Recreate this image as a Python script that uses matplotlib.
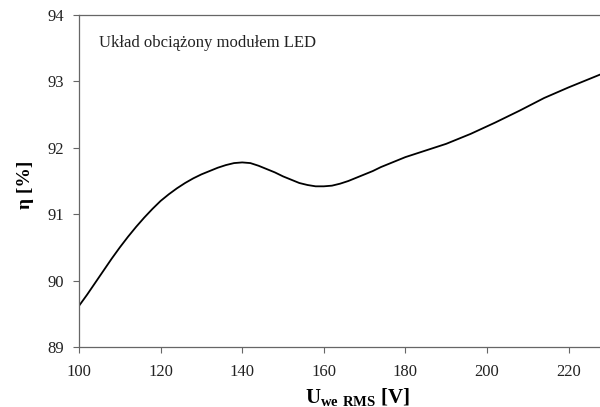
import matplotlib
matplotlib.use("Agg")
import matplotlib.pyplot as plt

# values
u_in = [100, 102, 104, 106, 108, 110, 112, 114, 116, 118, 120, 122, 124,
        126, 128, 130, 132, 134, 136, 138, 140, 142, 144, 146, 148, 150,
        152, 154, 156, 158, 160, 162, 164, 166, 168, 170, 172, 174, 176,
        178, 180, 184, 190, 196, 202, 208, 214, 220, 228]
eff = [89.62, 89.79, 89.97, 90.15, 90.33, 90.50, 90.66, 90.81, 90.95,
       91.08, 91.20, 91.30, 91.39, 91.47, 91.54, 91.60, 91.65, 91.70,
       91.74, 91.77, 91.78, 91.77, 91.73, 91.68, 91.63, 91.57, 91.52,
       91.47, 91.44, 91.42, 91.42, 91.43, 91.46, 91.50, 91.55, 91.60,
       91.65, 91.71, 91.76, 91.81, 91.86, 91.94, 92.06, 92.21, 92.38,
       92.56, 92.75, 92.91, 93.11]

x_ticks = [100, 120, 140, 160, 180, 200, 220]
y_ticks = [89, 90, 91, 92, 93, 94]

plt.rcParams["font.family"] = "Liberation Serif"
plt.rcParams["mathtext.fontset"] = "custom"
plt.rcParams["mathtext.rm"] = "Liberation Serif"
plt.rcParams["mathtext.bf"] = "Liberation Serif:bold"

fig = plt.figure(figsize=(6.0, 4.07), dpi=100)
ax = fig.add_axes([0.1317, 0.1474, 0.8683, 0.8157])

ax.plot(u_in, eff, color="black", lw=1.3)

ax.set_xlim(100, 227.7)
ax.set_ylim(89, 94)
ax.set_xticks(x_ticks)
ax.set_yticks(y_ticks)
ax.tick_params(labelsize=12, length=4, width=0.8, color="#666666",
               direction="out", labelcolor="#222222")
ax.tick_params(axis="y", pad=7)
ax.tick_params(axis="x", pad=8)

for side in ["left", "bottom", "top"]:
    ax.spines[side].set_color("#666666")
    ax.spines[side].set_linewidth(0.9)
ax.spines["right"].set_visible(False)

ax.text(104.8, 93.58, "Układ obciążony modułem LED", fontsize=12,
        va="center", ha="left", color="#222222")

ax.set_xlabel(r"$\mathbf{U_{we\ RMS}}$ [V]", fontsize=15, fontweight="bold")
ax.xaxis.set_label_coords(0.534, -0.118)
ax.set_ylabel("η [%]", fontsize=14, fontweight="bold")
ax.yaxis.set_label_coords(-0.086, 0.49)

fig.savefig("out.png", dpi=100)
